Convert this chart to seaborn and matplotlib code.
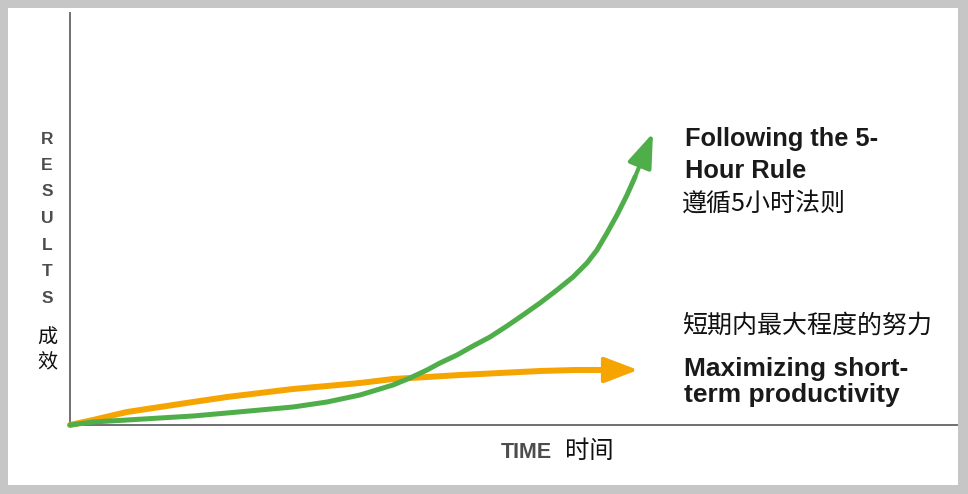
import matplotlib
matplotlib.use("Agg")
import matplotlib.pyplot as plt
import seaborn as sns
from matplotlib.patches import Rectangle

# ---- data (time units / result units) ----
orange_time = [0, 23, 57, 90, 123, 157, 190, 223, 257, 290, 323, 357, 390, 430, 470, 505, 535]
orange_res = [0, 5, 13, 18, 23, 28, 32, 36, 39, 42, 46, 48, 50, 52, 54, 55, 55]
orange_tip = (568, 55)

green_time = [0, 23, 57, 90, 123, 157, 190, 223, 257, 290, 323, 340, 357, 370, 387,
              403, 420, 437, 453, 470, 487, 503, 517, 527, 537, 547, 557, 565]
green_res = [0, 3, 5, 7, 9, 12, 15, 18, 23, 30, 40, 47, 55, 62, 70,
             79, 88, 99, 110, 122, 135, 148, 162, 175, 192, 210, 230, 248]
green_tip = (583, 292)

y_letters = list("RESULTS")
y_cn = ["成", "效"]
x_label_en = "TIME"
x_label_cn = "时间"
green_label_en = "Following the 5-\nHour Rule"
green_label_cn = "遵循5小时法则"
orange_label_cn = "短期内最大程度的努力"
orange_label_en = "Maximizing short-\nterm productivity"

ORANGE = "#f5a400"
GREEN = "#4fae4a"
AXIS = "#707070"
LABEL_GRAY = "#4d4d4d"
LAT = ["Liberation Sans", "DejaVu Sans"]
CJK = ["Noto Sans CJK SC", "DejaVu Sans"]

sns.set_theme(style="white")
W, H = 968, 494
fig = plt.figure(figsize=(W / 100, H / 100), dpi=100)
fig.patch.set_facecolor("#c6c6c6")
fig.patches.append(Rectangle((8 / W, 1 - 485 / H), (958 - 8) / W, (485 - 8) / H,
                             transform=fig.transFigure, facecolor="white",
                             edgecolor="none", zorder=-10))


def fx(x):
    return x / W


def fy(y):
    return 1 - y / H


ax = fig.add_axes([fx(70), fy(425), (957 - 70) / W, (425 - 13) / H])
ax.set_facecolor("none")
ax.set_xlim(0, 887)
ax.set_ylim(0, 412)
for s in ("top", "right"):
    ax.spines[s].set_visible(False)
for s in ("left", "bottom"):
    ax.spines[s].set_color(AXIS)
    ax.spines[s].set_linewidth(1.4)
ax.set_xticks([])
ax.set_yticks([])
ax.set_xlabel("")
ax.set_ylabel("")

sns.lineplot(x=orange_time, y=orange_res, color=ORANGE, lw=4.3, sort=False,
             ax=ax, solid_capstyle="round", solid_joinstyle="round",
             clip_on=False, zorder=3)
sns.lineplot(x=green_time, y=green_res, color=GREEN, lw=3.6, sort=False,
             ax=ax, solid_capstyle="round", solid_joinstyle="round",
             clip_on=False, zorder=4)

ax.annotate("", xy=orange_tip, xytext=(orange_time[-1], orange_res[-1]),
            arrowprops=dict(arrowstyle="-|>,head_length=1.05,head_width=0.4",
                            mutation_scale=20, color=ORANGE, lw=3.0,
                            shrinkA=0, shrinkB=0), zorder=3)
ax.annotate("", xy=green_tip, xytext=(green_time[-1], green_res[-1]),
            arrowprops=dict(arrowstyle="-|>,head_length=1.05,head_width=0.38",
                            mutation_scale=20, color=GREEN, lw=3.0,
                            shrinkA=0, shrinkB=0), zorder=4)

# y axis label
for i, ch in enumerate(y_letters):
    fig.text(fx(47), fy(139 + i * 26.5), ch, family=LAT, fontweight="bold",
             fontsize=12.5, color=LABEL_GRAY, ha="center", va="center")
for i, ch in enumerate(y_cn):
    fig.text(fx(47), fy(338 + i * 25), ch, family=CJK, fontsize=14.5,
             color="#111111", ha="center", va="center")

# x axis label
fig.text(fx(526), fy(452), x_label_en, family=LAT, fontweight="bold",
         fontsize=15.5, color=LABEL_GRAY, ha="center", va="center")
fig.text(fx(589), fy(451), x_label_cn, family=CJK, fontsize=17.5,
         color="#111111", ha="center", va="center")

# annotations
fig.text(fx(685), fy(155), green_label_en, family=LAT, fontweight="bold",
         fontsize=18.3, color="#1a1a1a", ha="left", va="center", linespacing=1.38)
fig.text(fx(682), fy(204), green_label_cn, family=CJK, fontsize=18,
         color="#111111", ha="left", va="center")
fig.text(fx(682), fy(326), orange_label_cn, family=CJK, fontsize=18,
         color="#111111", ha="left", va="center")
fig.text(fx(684), fy(382), orange_label_en, family=LAT, fontweight="bold",
         fontsize=19, color="#1a1a1a", ha="left", va="center", linespacing=1.15)

fig.savefig("out.png", dpi=100, facecolor=fig.get_facecolor())
